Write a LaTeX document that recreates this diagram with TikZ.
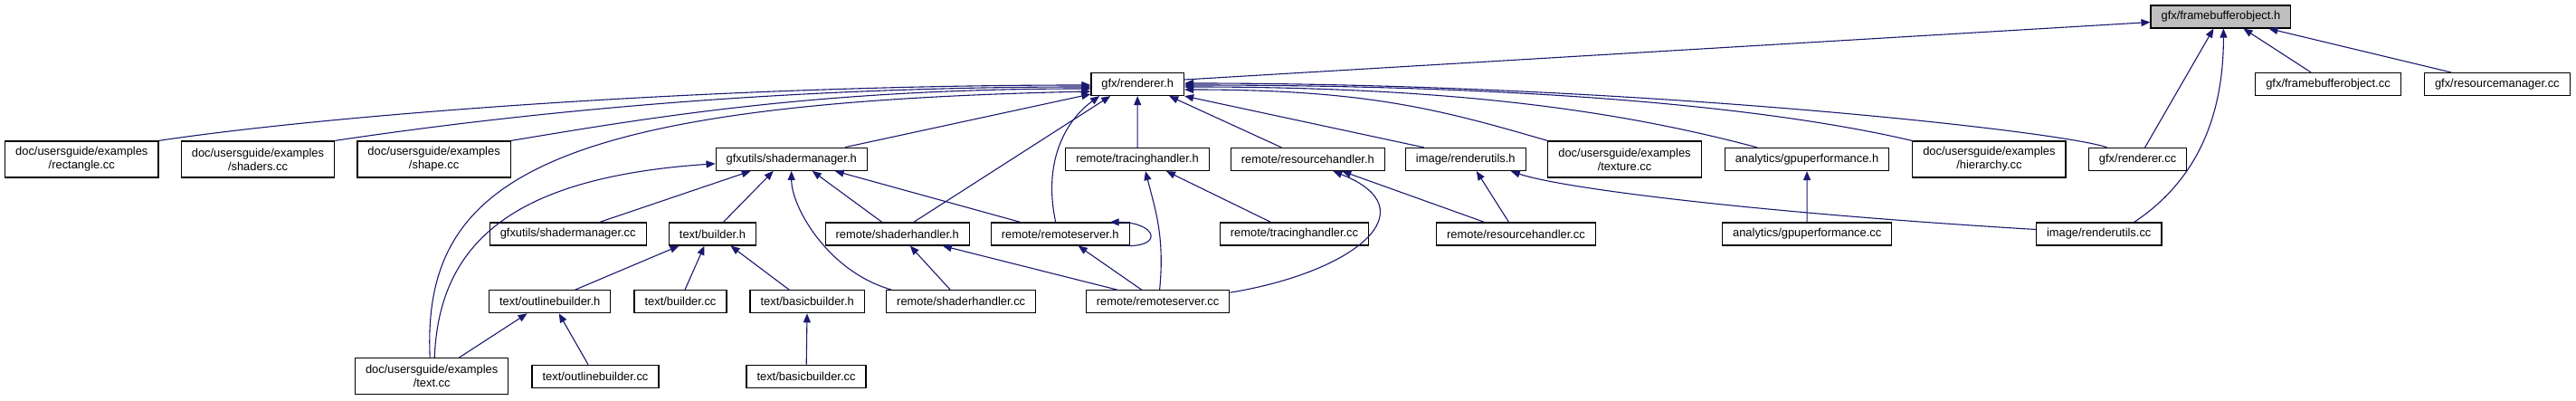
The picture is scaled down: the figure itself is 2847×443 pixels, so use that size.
\documentclass[tikz,border=0pt]{standalone}
\usepackage{fontspec}
\setmainfont{Liberation Sans}
\usepackage{xcolor}
\usetikzlibrary{arrows.meta}
\definecolor{edgeblue}{RGB}{25,25,112}
\definecolor{hlgray}{RGB}{191,191,191}

\begin{document}
\begin{tikzpicture}[x=1pt,y=-1pt,
    filebox/.style={draw=black, line width=1.2pt, fill=white, inner xsep=11.5pt, inner ysep=0pt, minimum height=25pt, font=\fontsize{12.9}{15}\selectfont},
    twoline/.style={filebox, align=center, minimum height=40pt},
    dep/.style={draw=edgeblue, line width=1.1pt, -{Triangle[length=10pt,width=8pt]}}]
    \useasboundingbox (0,0) rectangle (2847,443);

    % top
    \node[filebox, fill=hlgray] (fboh) at (2454.4,18.5) {gfx/framebufferobject.h};
    \node[filebox] (rendererh) at (1257.2,93) {gfx/renderer.h};
    \node[filebox] (fbocc) at (2573,93) {gfx/framebufferobject.cc};
    \node[filebox] (resmancc) at (2759.8,93) {gfx/resourcemanager.cc};

    % second row
    \node[twoline] (rectanglecc) at (90.3,176) {doc/usersguide/examples\\/rectangle.cc};
    \node[twoline] (shaderscc) at (285,176) {doc/usersguide/examples\\/shaders.cc};
    \node[twoline] (shapecc) at (479.6,176) {doc/usersguide/examples\\/shape.cc};
    \node[filebox] (shadermanagerh) at (874.7,175.8) {gfxutils/shadermanager.h};
    \node[filebox] (tracingh) at (1257,176) {remote/tracinghandler.h};
    \node[filebox] (resourceh) at (1445.3,176) {remote/resourcehandler.h};
    \node[filebox] (renderutilsh) at (1619.8,176) {image/renderutils.h};
    \node[twoline] (texturecc) at (1795.5,176) {doc/usersguide/examples\\/texture.cc};
    \node[filebox] (gpuperfh) at (1997,176) {analytics/gpuperformance.h};
    \node[twoline] (hierarchycc) at (2198.4,176) {doc/usersguide/examples\\/hierarchy.cc};
    \node[filebox] (renderercc) at (2362.6,176) {gfx/renderer.cc};

    % third row
    \node[filebox] (shadermanagercc) at (627.7,258.5) {gfxutils/shadermanager.cc};
    \node[filebox] (builderh) at (787.5,258.5) {text/builder.h};
    \node[filebox] (shaderhandlerh) at (991.8,258.5) {remote/shaderhandler.h};
    \node[filebox] (remoteserverh) at (1171.7,258.5) {remote/remoteserver.h};
    \node[filebox] (tracingcc) at (1430.5,258.5) {remote/tracinghandler.cc};
    \node[filebox] (resourcecc) at (1675.5,258.5) {remote/resourcehandler.cc};
    \node[filebox] (gpuperfcc) at (1997.2,258.5) {analytics/gpuperformance.cc};
    \node[filebox] (renderutilscc) at (2319.7,258.5) {image/renderutils.cc};

    % fourth row
    \node[filebox] (outlineh) at (607.7,333.2) {text/outlinebuilder.h};
    \node[filebox] (buildercc) at (752,333.2) {text/builder.cc};
    \node[filebox] (basich) at (892.2,333.2) {text/basicbuilder.h};
    \node[filebox] (shaderhandlercc) at (1062.2,333.2) {remote/shaderhandler.cc};
    \node[filebox] (remoteservercc) at (1279.6,333.2) {remote/remoteserver.cc};

    % bottom
    \node[twoline] (textcc) at (477.2,415.8) {doc/usersguide/examples\\/text.cc};
    \node[filebox] (outlinecc) at (658,415.8) {text/outlinebuilder.cc};
    \node[filebox] (basiccc) at (891,415.8) {text/basicbuilder.cc};

    % into gfx/framebufferobject.h
    \draw[dep] ([yshift=5pt]rendererh.east) -- ([yshift=-6pt]fboh.west);
    \draw[dep] ([xshift=8pt]renderercc.north) -- ([xshift=-8pt]fboh.south);
    \draw[dep] ([xshift=39pt]renderutilscc.north) .. controls +(60,-40) and +(0,110) .. ([xshift=3pt]fboh.south);
    \draw[dep] ([xshift=-19pt]fbocc.north) -- ([xshift=25pt]fboh.south);
    \draw[dep] ([xshift=-51pt]resmancc.north) -- ([xshift=53pt]fboh.south);

    % into gfx/renderer.h
    \draw[dep] (rectanglecc.north east) .. controls +(200,-30) and +(-400,0) .. ([yshift=-1pt]rendererh.west);
    \draw[dep] (shaderscc.north east) .. controls +(200,-30) and +(-350,0) .. ([yshift=-3pt]rendererh.west);
    \draw[dep] (shapecc.north east) .. controls +(150,-25) and +(-300,0) .. ([yshift=-5pt]rendererh.west);
    \draw[dep] ([xshift=-2pt]textcc.north) .. controls +(-9,-196) and +(-606,13) .. ([yshift=-8pt]rendererh.west);
    \draw[dep] ([xshift=-25pt]shadermanagerh.north east) -- ([yshift=-11pt]rendererh.west);
    \draw[dep] ([xshift=18pt]shaderhandlerh.north) -- ([xshift=-30pt]rendererh.south);
    \draw[dep] ([xshift=-5pt]remoteserverh.north) .. controls +(-15,-70) and +(-35,25) .. ([xshift=-42pt]rendererh.south);
    \draw[dep] (tracingh) -- (rendererh);
    \draw[dep] ([xshift=-29pt]resourceh.north) -- ([xshift=35pt]rendererh.south);
    \draw[dep] ([xshift=-46pt]renderutilsh.north) -- (rendererh.south east);
    \draw[dep] (texturecc.north west) .. controls +(-120,-35) and +(200,0) .. ([yshift=-6pt]rendererh.east);
    \draw[dep] ([xshift=-55pt]gpuperfh.north) .. controls +(-150,-40) and +(300,0) .. ([yshift=-3pt]rendererh.east);
    \draw[dep] (hierarchycc.north west) .. controls +(-150,-35) and +(400,0) .. ([yshift=-1pt]rendererh.east);
    \draw[dep] ([xshift=-34pt]renderercc.north) .. controls +(-49,-18) and +(491,0) .. ([yshift=1pt]rendererh.east);

    % into gfxutils/shadermanager.h
    \draw[dep] ([xshift=3pt]textcc.north) .. controls +(5,-130) and +(-220,15) .. ([yshift=-5pt]shadermanagerh.west);
    \draw[dep] ([xshift=35pt]shadermanagercc.north) -- ([xshift=-45pt]shadermanagerh.south);
    \draw[dep] ([xshift=12pt]builderh.north) -- ([xshift=-20pt]shadermanagerh.south);
    \draw[dep] ([xshift=-77pt]shaderhandlercc.north) .. controls +(-70,-20) and +(0,40) .. (shadermanagerh.south);
    \draw[dep] ([xshift=-17pt]shaderhandlerh.north) -- ([xshift=23pt]shadermanagerh.south);
    \draw[dep] ([xshift=-44pt]remoteserverh.north) -- ([xshift=48pt]shadermanagerh.south);

    % text builders
    \draw[dep] ([xshift=28pt]outlineh.north) -- ([xshift=-37pt]builderh.south);
    \draw[dep] ([xshift=5pt]buildercc.north) -- ([xshift=-9pt]builderh.south);
    \draw[dep] ([xshift=-20pt]basich.north) -- ([xshift=20pt]builderh.south);
    \draw[dep] ([xshift=30pt]textcc.north) -- ([xshift=-25pt]outlineh.south);
    \draw[dep] ([xshift=-8pt]outlinecc.north) -- ([xshift=10pt]outlineh.south);
    \draw[dep] (basiccc) -- (basich);

    % remote
    \draw[dep] ([xshift=-12pt]shaderhandlercc.north) -- ([xshift=14pt]shaderhandlerh.south);
    \draw[dep] ([xshift=-45pt]remoteservercc.north) -- ([xshift=50pt]shaderhandlerh.south);
    \draw[dep] ([xshift=-18pt]remoteservercc.north) -- ([xshift=20pt]remoteserverh.south);
    \draw[dep] ([xshift=-2pt]remoteserverh.south east) .. controls +(40,0) and +(50,0) .. ([xshift=-22pt]remoteserverh.north east);
    \draw[dep] ([xshift=2pt]remoteservercc.north) .. controls +(6,-60) and +(10,40) .. ([xshift=9pt]tracingh.south);
    \draw[dep] ([xshift=-26pt]tracingcc.north) -- ([xshift=32pt]tracingh.south);
    \draw[dep] ([yshift=10pt]remoteservercc.east) .. controls +(140,-23) and +(107,42) .. ([xshift=28pt]resourceh.south);
    \draw[dep] ([xshift=-35pt]resourcecc.north) -- ([xshift=38pt]resourceh.south);
    \draw[dep] ([xshift=-8pt]resourcecc.north) -- ([xshift=12pt]renderutilsh.south);
    \draw[dep] ([yshift=5pt]renderutilscc.west) .. controls +(-300,-18) and +(60,20) .. ([xshift=50pt]renderutilsh.south);
    \draw[dep] (gpuperfcc) -- (gpuperfh);
\end{tikzpicture}
\end{document}
